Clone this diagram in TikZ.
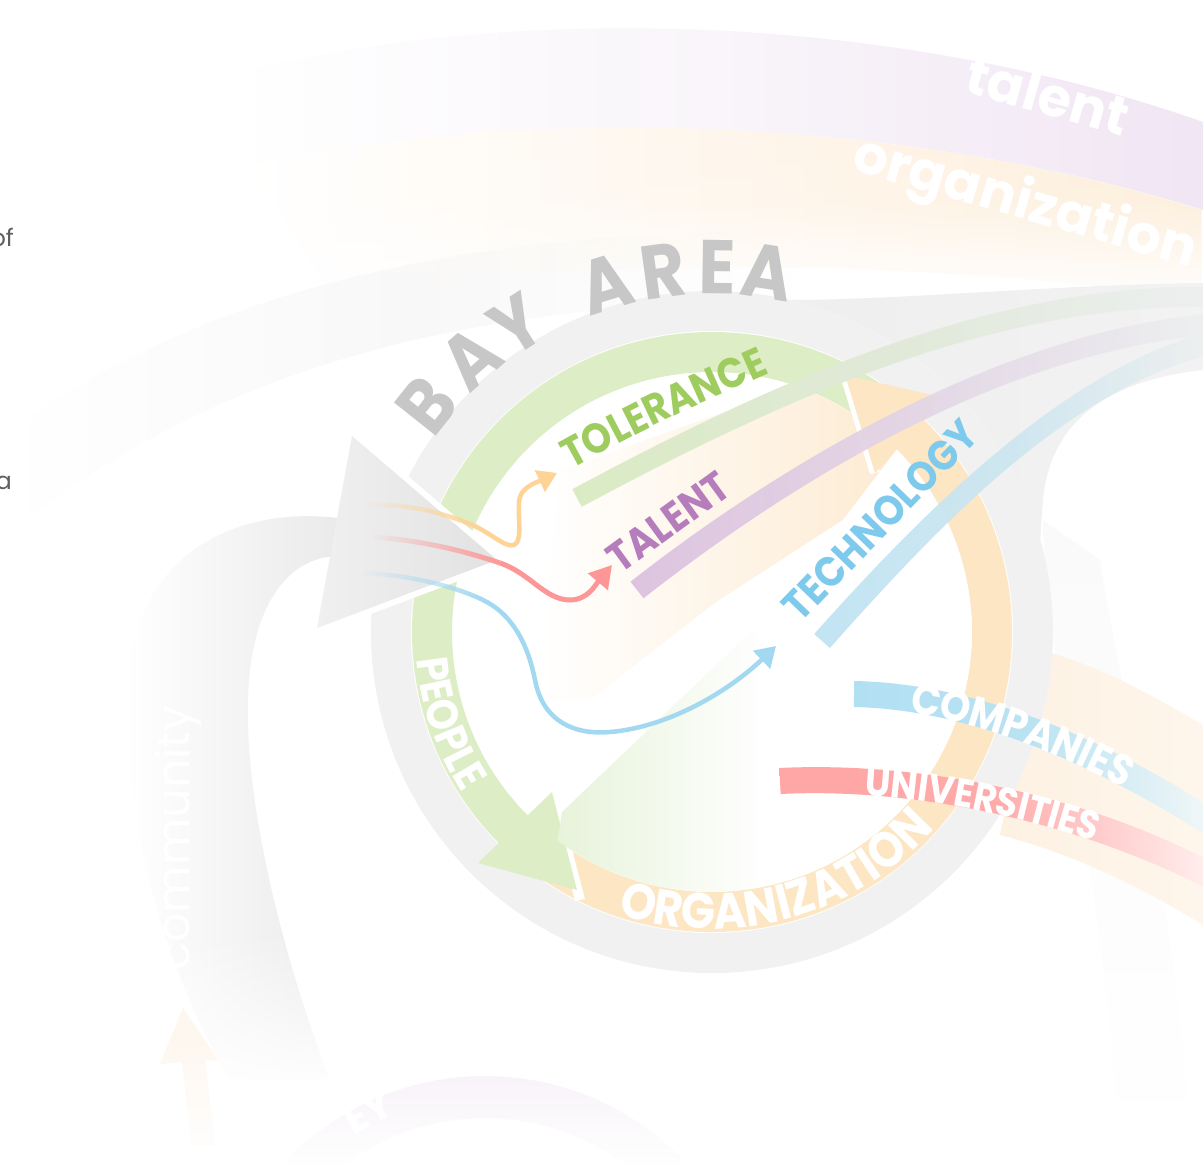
\documentclass[tikz,border=0pt]{standalone}
\usepackage{fontspec}
\setmainfont{Poppins}
\newfontfamily\lblfam[FakeStretch=0.9]{Poppins}
\usetikzlibrary{calc,decorations.text,fadings,arrows.meta}

\definecolor{ringgray}{HTML}{F1F1F1}
\definecolor{ringgreen}{HTML}{DDEDC6}
\definecolor{ringorange}{HTML}{FDE6C3}
\definecolor{tolgreen}{HTML}{9FCC5E}
\definecolor{talpurple}{HTML}{B67DBC}
\definecolor{techblue}{HTML}{7DCAEC}
\definecolor{baygray}{HTML}{C7C7C7}
\definecolor{curvorange}{HTML}{FDD496}
\definecolor{curvred}{HTML}{FD9797}
\definecolor{curvblue}{HTML}{A3D8F1}
\definecolor{bandgreen}{HTML}{DAEBC4}
\definecolor{bandgreenmid}{HTML}{E0E9D8}
\definecolor{bandpurple}{HTML}{DCC1DF}
\definecolor{bandpurplemid}{HTML}{E3D6E6}
\definecolor{bandblue}{HTML}{BFE3F3}
\definecolor{bandbluemid}{HTML}{CDE6F0}
\definecolor{bandend}{HTML}{EDEFEF}
\definecolor{compblue}{HTML}{B2E0F3}
\definecolor{compbluemid}{HTML}{B9E2F2}
\definecolor{compend}{HTML}{EFF6F7}
\definecolor{univred}{HTML}{FFA6A6}
\definecolor{univredmid}{HTML}{FFAAAA}
\definecolor{univend}{HTML}{FFEDEC}
\definecolor{textgray}{HTML}{5F5F5F}
\definecolor{bgpurple}{HTML}{F1E6F4}
\definecolor{bgpurplemid}{HTML}{F9F5FA}
\definecolor{bgorange}{HTML}{FDEDD8}
\definecolor{bggray}{HTML}{F8F8F8}
\definecolor{loopgray}{HTML}{EAEAEA}
\definecolor{trunkgray}{HTML}{EEEEEE}
\definecolor{trunkgrayb}{HTML}{F2F2F2}
\definecolor{faintgray}{HTML}{FAFAFA}
\definecolor{faintorange}{HTML}{FDF1E2}
\definecolor{faintorangeb}{HTML}{FEF6EC}
\definecolor{faintorangec}{HTML}{FEF7EF}
\definecolor{faintpurple}{HTML}{F5EEF7}
\definecolor{peach}{HTML}{FDEBD2}
\definecolor{palegreen}{HTML}{E5F2D7}
\definecolor{arrowgrayl}{HTML}{F0F0F0}
\definecolor{arrowgrayr}{HTML}{E2E2E2}

\newcommand\fLbl{\lblfam\bfseries\fontsize{42}{50}\selectfont}
\newcommand\fPeople{\lblfam\bfseries\fontsize{44}{50}\selectfont}
\newcommand\fOrg{\lblfam\bfseries\fontsize{50}{56}\selectfont}
\newcommand\fComp{\lblfam\bfseries\fontsize{43}{50}\selectfont}
\newcommand\fUniv{\lblfam\bfseries\fontsize{40}{48}\selectfont}
\newcommand\fBay{\lblfam\bfseries\fontsize{76}{80}\selectfont}
\newcommand\fBig{\bfseries\fontsize{54}{60}\selectfont}
\newcommand\fFaint{\bfseries\fontsize{40}{46}\selectfont}
\newcommand\fComm{\fontsize{46}{52}\selectfont}
\newcommand\fSide{\fontsize{24}{28}\selectfont}

\tikzfading[name=fadein, left color=transparent!100, right color=transparent!0]
\tikzfading[name=fadebottom, top color=transparent!100, bottom color=transparent!0]
\tikzfading[name=fadelower, top color=transparent!0, bottom color=transparent!100, middle color=transparent!15]

\begin{document}
\begin{tikzpicture}[x=1pt,y=-1pt,
  ringband/.style={line width=40pt},
  baylbl/.style={text=baygray, font=\fBay, inner sep=0pt},
  whitebig/.style={text=white, font=\fBig, inner sep=0pt},
  faintlbl/.style={text=white, font=\fFaint, inner sep=0pt},
  sidelbl/.style={text=textgray, font=\fSide, inner sep=0pt},
  innerlbl/.style={font=\fLbl, inner sep=0pt}]
\useasboundingbox (0,0) rectangle (1203,1165);
\fill[white] (0,0) rectangle (1203,1165);
\coordinate (C) at (712,632);

% ---------- faint background ----------
\shade[left color=white, right color=white, middle color=bggray]
  (0,440) .. controls (180,300) and (450,225) .. (820,232) -- (820,300)
  .. controls (480,300) and (220,360) .. (0,540) -- cycle;
\shade[left color=white, right color=bgpurple, middle color=bgpurplemid]
  (230,75) .. controls (520,0) and (900,15) .. (1203,122) -- (1203,210)
  .. controls (900,115) and (520,105) .. (250,165) -- cycle;
\shade[left color=white, right color=bgorange, path fading=fadelower]
  (250,165) .. controls (520,105) and (900,115) .. (1203,210) -- (1203,300)
  .. controls (950,262) and (650,255) .. (330,290) -- cycle;
\shade[left color=white, right color=loopgray]
  (338,518) .. controls (230,505) and (130,560) .. (128,690)
  .. controls (125,820) and (160,960) .. (230,1080) -- (330,1080)
  .. controls (280,950) and (245,800) .. (248,700)
  .. controls (250,610) and (285,557) .. (338,556) -- cycle;
\fill[white, path fading=fadebottom] (120,930) rectangle (345,1090);
\shade[left color=trunkgray, right color=trunkgrayb]
  (790,300) .. controls (900,300) and (1050,285) .. (1203,283) -- (1203,370)
  .. controls (1110,380) and (1050,420) .. (1043,500)
  .. controls (1036,580) and (1040,640) .. (1055,720) -- (712,632) -- cycle;
\shade[top color=faintgray, bottom color=white]
  (1043,520) .. controls (1050,700) and (1110,900) .. (1120,1165)
  -- (1190,1165) .. controls (1180,900) and (1120,700) .. (1100,560) -- cycle;
\shade[left color=faintorange, right color=faintorangeb]
  (1040,650) .. controls (1100,665) and (1160,700) .. (1203,725) -- (1203,925)
  .. controls (1130,880) and (1060,850) .. (1000,835) -- cycle;
\coordinate (B2) at (485,1352);
\draw[faintpurple, line width=42pt] ($(B2)+(-145:255)$) arc[start angle=-145, end angle=-35, radius=255];
\fill[faintorangec] (183,1008) -- (218,1060) -- (205,1060) -- (215,1145) -- (192,1145)
  -- (182,1062) -- (160,1064) -- cycle;

\node[whitebig, rotate=-16] (talentbg) at (1048,95) {talent};
\node[whitebig, rotate=-16] (orgbg) at (1025,205) {organization};
\node[faintlbl, rotate=90, font=\fComm] (community) at (178,838) {community};
\node[faintlbl, rotate=35] (inbg) at (178,528) {in};
\node[faintlbl, rotate=28] (eybg) at (368,1112) {EY};

% ---------- ring ----------
\fill[white] (C) circle[radius=341];
\draw[ringgray, ringband] (C) circle[radius=321];

\begin{scope}
  \clip (C) circle[radius=259.5];
  \shade[left color=white, right color=peach]
    (560,470) -- (850,368) -- (898,448) -- (843,520) -- (715,603) -- (590,700) -- (540,700) -- cycle;
\end{scope}

\draw[ringgreen, ringband] ($(C)+(-50:280)$) arc[start angle=-50, end angle=-225, radius=280];
\draw[ringorange, ringband] ($(C)+(-232:280)$) arc[start angle=-232, end angle=-405, radius=280];

% green arrowhead
\draw[white, line width=10pt] (552,792) -- (580,900);
\fill[ringgreen] (552,792) -- (478,863) -- (577,890) -- cycle;
% orange arrowhead
\draw[white, line width=10pt] (845,375) -- (875,473);
\fill[ringorange] (845,375) -- (945,398) -- (875,473) -- cycle;

% white stripe and pale green wedge
\begin{scope}
  \clip (C) circle[radius=259.5];
  \fill[white] (898,448) -- (843,520) -- (715,603) -- (590,700) -- (590,950) -- (1000,950) -- (1000,448) -- cycle;
  \shade[left color=palegreen, right color=white, middle color=white]
    (562,812) -- (800,585) -- (990,585) -- (990,950) -- (540,950) -- cycle;
\end{scope}

% big gray arrowhead
\draw[white, line width=12pt, line join=round] (352,436) -- (497,560) -- (317,628);
\shade[left color=arrowgrayl, right color=arrowgrayr] (352,436) -- (497,560) -- (317,628) -- cycle;

% ---------- bands ----------
\shade[left color=bandgreen, right color=bandend, middle color=bandgreenmid]
  (572.3,489.2) .. controls (755.3,391.2) and (980,285) .. (1203,287) -- (1203,307)
  .. controls (980,305) and (764.7,408.8) .. (581.7,506.8) -- cycle;
\shade[left color=bandpurple, right color=bandend, middle color=bandpurplemid, opacity=0.95]
  (630.5,581.7) .. controls (783.5,461.7) and (1000,334.45) .. (1203,314.45) -- (1203,335.55)
  .. controls (1000,355.55) and (796.5,478.3) .. (643.5,598.3) -- cycle;
\shade[left color=bandblue, right color=bandend, middle color=bandbluemid, opacity=0.95]
  (814.2,634) .. controls (922.2,513) and (1060,373.6) .. (1203,333.6) -- (1203,356.4)
  .. controls (1060,396.4) and (937.8,527) .. (829.8,648) -- cycle;

\shade[left color=compblue, right color=compend, middle color=compbluemid]
  (854.25,681) .. controls (960.25,683) and (1080,724.7) .. (1203,802.7) -- (1203,833.3)
  .. controls (1080,755.3) and (959.75,709) .. (853.75,707) -- cycle;
\shade[left color=univred, right color=univend, middle color=univredmid]
  (779.35,768) .. controls (899.35,762) and (1060,785.45) .. (1203,857.45) -- (1203,886.55)
  .. controls (1060,814.55) and (900.65,788) .. (780.65,794) -- cycle;

\path[decorate, decoration={text along path, text={|\fComp|COMPANIES}, text color=white,
  text align={left indent=58pt}, raise=-14pt}]
  (854,694) .. controls (960,696) and (1080,740) .. (1203,818);
\path[decorate, decoration={text along path, text={|\fUniv|UNIVERSITIES}, text color=white,
  text align={left indent=86pt}, raise=-14pt}]
  (780,781) .. controls (900,775) and (1060,800) .. (1203,872);

% ---------- curvy arrows ----------
\coordinate (oS) at (367,505); \coordinate (oJ) at (470,524); \coordinate (oE) at (557,473);
\draw[curvorange, line width=4.5pt, path fading=fadein] (oS) .. controls (410,504) and (440,512) .. (oJ);
\draw[curvorange, line width=4.5pt, -{Triangle[length=19pt,width=23pt]}]
  (oJ) .. controls (490,532) and (505,548) .. (514,545) .. controls (524,541) and (516,510) .. (520,497)
  .. controls (523,486) and (540,481) .. (oE);
\coordinate (rS) at (372,537); \coordinate (rJ) at (500,563); \coordinate (rE) at (612,565);
\draw[curvred, line width=5pt, path fading=fadein] (rS) .. controls (420,540) and (465,551) .. (rJ);
\draw[curvred, line width=5pt, -{Triangle[length=22pt,width=25pt]}]
  (rJ) .. controls (530,573) and (545,600) .. (570,600) .. controls (588,600) and (596,584) .. (rE);
\coordinate (bS) at (362,573); \coordinate (bJ) at (483,600); \coordinate (bE) at (776,646);
\draw[curvblue, line width=4.5pt, path fading=fadein] (bS) .. controls (400,574) and (450,584) .. (bJ);
\draw[curvblue, line width=4.5pt, -{Triangle[length=20pt,width=24pt]}]
  (bJ) .. controls (510,613) and (527,640) .. (535,680) .. controls (543,722) and (575,735) .. (610,732)
  .. controls (670,727) and (730,690) .. (bE);

% ---------- labels ----------
\path[decorate, decoration={text along path, text={|\fLbl|TOLERANCE}, text color=tolgreen, text align=center}]
  (552,480) .. controls (652,425) .. (790,364);
\node[innerlbl, text=talpurple, rotate=36] (talent) at (668,522) {TALENT};
\node[innerlbl, text=techblue, rotate=46] (tech) at (880,520) {TECHNOLOGY};

\path[decorate, decoration={text along path, text={|\fPeople|PEOPLE}, text color=white, text align=center}]
  ($(C)+(-170:297)$) arc[start angle=-170, end angle=-228, radius=297];
\path[decorate, decoration={text along path, text={|\fOrg|ORGANIZATION}, text color=white, text align=center}]
  ($(C)+(-235:297)$) arc[start angle=-235, end angle=-335, radius=297];

\foreach \ch/\a [count=\i] in {B/141.5, A/131.3, Y/122.5, A/107, R/97.8, E/89.2, A/81.2}
  \node[baylbl, rotate=\a-90, anchor=base] (bay\i) at ($(C)+(-\a:338)$) {\ch};

\node[sidelbl, anchor=base east] (of) at (14,246) {of};
\node[sidelbl, anchor=base east] (a) at (12,489) {a};

% bottom fade
\fill[white, path fading=fadebottom] (0,1030) rectangle (1203,1165);
\end{tikzpicture}
\end{document}
